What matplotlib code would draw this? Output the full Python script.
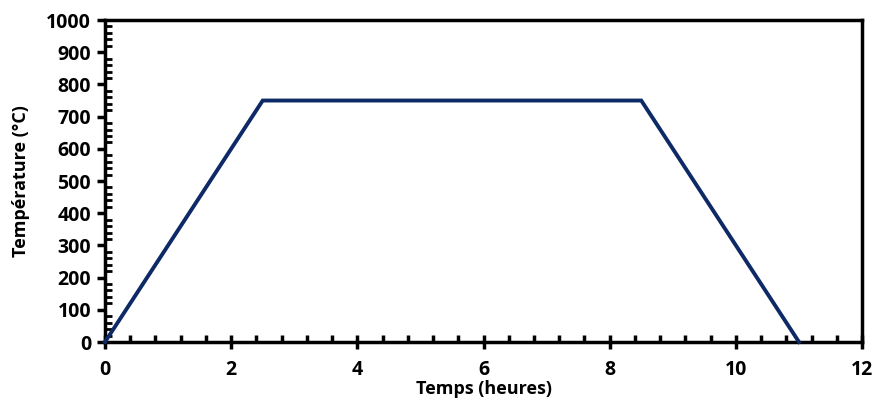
import matplotlib
matplotlib.use('Agg')
import matplotlib.pyplot as plt
from matplotlib.ticker import MultipleLocator

plt.rcParams['font.family'] = ['Open Sans', 'DejaVu Sans']
plt.rcParams['font.weight'] = 'bold'

temps = [0, 2.5, 8.5, 11]
temperature = [0, 750, 750, 0]
x_ticks = [0, 2, 4, 6, 8, 10, 12]
y_ticks = [0, 100, 200, 300, 400, 500, 600, 700, 800, 900, 1000]

fig = plt.figure(figsize=(8.77, 4.09), dpi=100)
ax = fig.add_axes([0.1197, 0.1638, 0.8633, 0.7872])
ax.plot(temps, temperature, color='#0d2a66', lw=2.8, solid_joinstyle='miter', clip_on=False, zorder=3)

ax.set_xlim(0, 12)
ax.set_ylim(0, 1000)
ax.set_xticks(x_ticks)
ax.set_xticklabels([str(v) for v in x_ticks], fontweight='bold', fontsize=14)
ax.set_yticks(y_ticks)
ax.set_yticklabels([str(v) for v in y_ticks], fontweight='bold', fontsize=14)
ax.xaxis.set_minor_locator(MultipleLocator(0.4))
ax.yaxis.set_minor_locator(MultipleLocator(20))

for s in ax.spines.values():
    s.set_linewidth(2.5)
ax.tick_params(axis='x', which='major', direction='inout', length=10, width=2.5, pad=8)
ax.tick_params(axis='x', which='minor', direction='in', length=5, width=2.5)
ax.tick_params(axis='y', which='major', direction='out', length=6, width=2.5, pad=4)
ax.tick_params(axis='y', which='minor', direction='in', length=5, width=2)

ax.set_xlabel('Temps (heures)', fontsize=13, fontweight='bold', labelpad=0)
ax.set_ylabel('Température (°C)', fontsize=13, fontweight='bold', labelpad=12)

fig.savefig('out.png', dpi=100)
